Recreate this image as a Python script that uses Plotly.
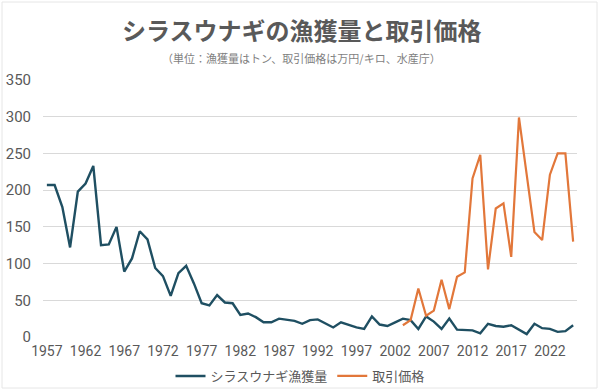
import plotly.graph_objects as go

years = list(range(1957, 2026))
catch = [207, 207, 177, 122, 198, 209, 233, 125, 126, 150,
         89, 107, 144, 133, 94, 83, 56, 87, 97, 73,
         46, 43, 57, 47, 46, 30, 32, 27, 20, 20,
         25, 24, 22, 18, 23, 24, 19, 13, 20, 16,
         13, 11, 28, 17, 15, 20, 25, 23, 11, 28,
         21, 11, 25, 10, 10, 9, 5, 18, 15, 14,
         16, 10, 4, 18, 12, 11, 7, 8, 16]
price_years = list(range(2003, 2026))
price = [16, 23, 66, 29, 36, 78, 38, 82, 88, 216,
         248, 92, 175, 182, 109, 299, 221, 143, 132, 221,
         250, 250, 130]
xtick_vals = list(range(1957, 2023, 5))
ytick_vals = [0, 50, 100, 150, 200, 250, 300, 350]

title_text = "シラスウナギの漁獲量と取引価格"
subtitle_text = "（単位：漁獲量はトン、取引価格は万円/キロ、水産庁）"
name_catch = "シラスウナギ漁獲量"
name_price = "取引価格"

FONT = "Roboto, 'Noto Sans CJK JP', sans-serif"
L, R, T, B = 43, 23, 80, 54
W, H = 600, 391
pw, ph = W - L - R, H - T - B

fig = go.Figure()
fig.add_trace(go.Scatter(x=years, y=catch, mode="lines", name=name_catch,
                         line=dict(color="#1F4F62", width=2.4)))
fig.add_trace(go.Scatter(x=price_years, y=price, mode="lines", name=name_price,
                         line=dict(color="#E2773A", width=2.2)))

fig.update_layout(
    width=W, height=H,
    margin=dict(l=L, r=R, t=T, b=B, autoexpand=False),
    paper_bgcolor="white", plot_bgcolor="white",
    font=dict(family=FONT, color="#595959"),
    showlegend=True,
    legend=dict(orientation="h", x=0.5, xref="container", xanchor="center",
                y=1 - 376 / H, yref="container", yanchor="middle",
                font=dict(size=13, color="#595959"), itemwidth=30,
                bgcolor="rgba(0,0,0,0)"),
    annotations=[
        dict(text="<b>" + title_text + "</b>", x=(W / 2 + 2 - L) / pw, xref="paper",
             y=1 + (T - 29) / ph, yref="paper", yanchor="middle", xanchor="center",
             showarrow=False, font=dict(size=24, color="#595959",
                                        family="'Noto Sans CJK JP', sans-serif")),
        dict(text=subtitle_text, x=(W / 2 + 1 - L) / pw, xref="paper",
             y=1 + (T - 58) / ph, yref="paper", yanchor="middle", xanchor="center",
             showarrow=False, font=dict(size=11, color="#7f7f7f",
                                        family="'Noto Sans CJK JP', sans-serif")),
    ],
    shapes=[dict(type="rect", xref="paper", yref="paper",
                 x0=-(L - 2) / pw, x1=1 + (R - 3) / pw,
                 y0=-(B - 3) / ph, y1=1 + (T - 2) / ph,
                 line=dict(color="#e6e6e6", width=1), layer="below")],
)
fig.update_xaxes(range=[1956.5, 2025.5], tickmode="array", tickvals=xtick_vals,
                 ticktext=[str(v) for v in xtick_vals], showgrid=False, zeroline=False,
                 showline=False, tickfont=dict(size=14, color="#595959"), ticks="",
                 ticklabelstandoff=4, fixedrange=True, automargin=False)
fig.update_yaxes(range=[0, 350], tickmode="array", tickvals=ytick_vals,
                 showgrid=True, gridcolor="#d9d9d9", gridwidth=1, zeroline=False,
                 showline=False, tickfont=dict(size=15, color="#595959"), ticks="",
                 ticklabelstandoff=11, fixedrange=True, automargin=False)

fig.write_html("out.html", config={"displayModeBar": False},
               post_script="document.body.style.margin='0';document.body.style.overflow='hidden';")
